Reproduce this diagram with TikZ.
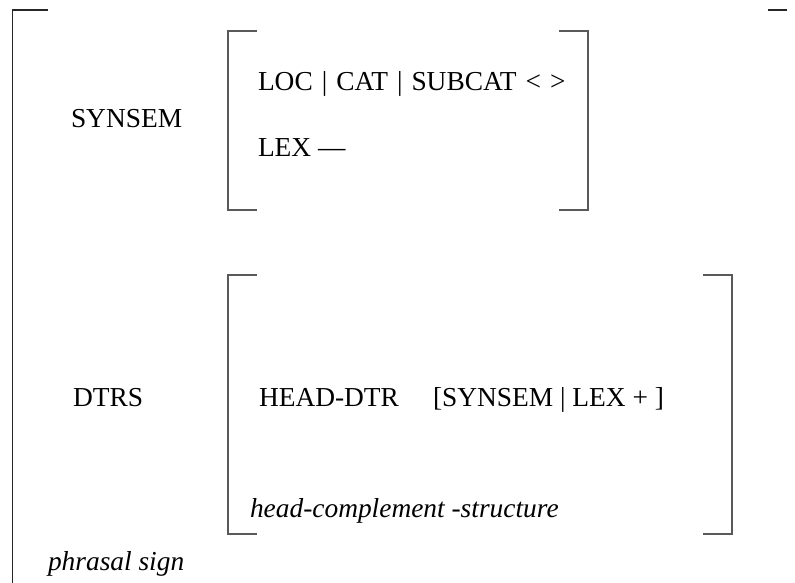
\documentclass[tikz,border=0pt]{standalone}
\usepackage{fontspec}
\setmainfont{Liberation Serif}
\begin{document}
\begin{tikzpicture}[x=1bp,y=-1bp,
  lbl/.style={anchor=base west, inner sep=0pt, outer sep=0pt,
    font=\fontsize{27.5}{33}\selectfont},
  ilbl/.style={lbl, font=\fontsize{27.5}{33}\selectfont\itshape},
  outerbr/.style={draw=black!85, line width=1.1bp},
  innerbr/.style={draw=black!65, line width=1.1bp}]
\useasboundingbox (0,0) rectangle (795,583);

% outer matrix brackets
\draw[outerbr] (48,10) -- (12.5,10) -- (12.5,583);
\draw[outerbr] (768,10) -- (787,10);

% SYNSEM value brackets
\draw[innerbr] (257,31) -- (228,31) -- (228,210) -- (257,210);
\draw[innerbr] (559,31) -- (588,31) -- (588,210) -- (559,210);

% DTRS value brackets
\draw[innerbr] (257,275) -- (228,275) -- (228,534) -- (257,534);
\draw[innerbr] (703,275) -- (732,275) -- (732,534) -- (703,534);

% features and values
\node[lbl] (synsem) at (71,128) {SYNSEM};
\node[lbl] (loc) at (258,91) {\spaceskip=9bp LOC | CAT | SUBCAT < >};
\node[lbl] (lex) at (258,157) {LEX —};
\node[lbl] (dtrs) at (73,406) {DTRS};
\node[lbl] (headdtr) at (259,406) {HEAD-DTR};
\node[lbl] (headval) at (433,406) {[SYNSEM | LEX + ]};
\node[ilbl] (hcs) at (250,517) {head-complement -structure};
\node[ilbl] (phrasal) at (48,570) {phrasal sign};
\end{tikzpicture}
\end{document}
